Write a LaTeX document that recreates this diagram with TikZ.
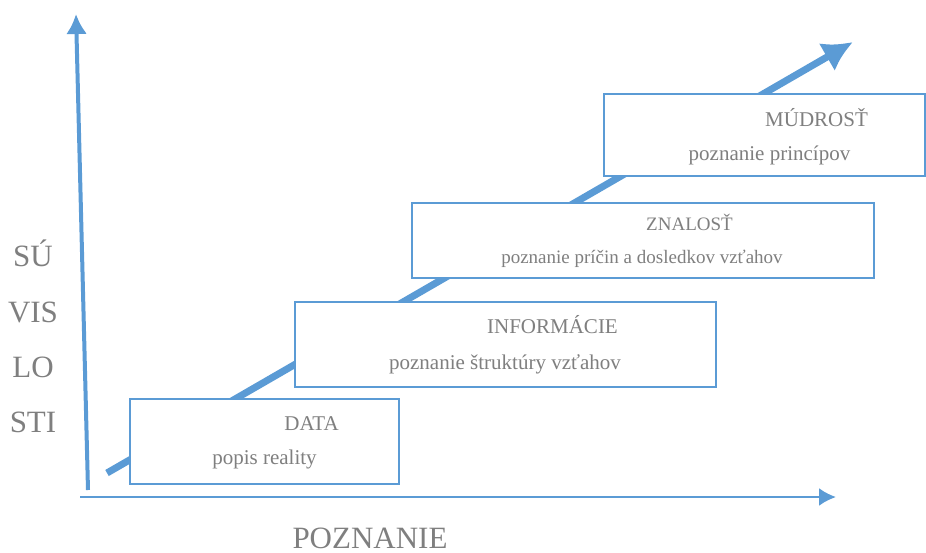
\documentclass[tikz,border=0pt]{standalone}
\usepackage{fontspec}
\setmainfont{Liberation Serif}
\usepackage{tikz}
\usetikzlibrary{arrows.meta}
\definecolor{axblue}{HTML}{5B9BD5}
\definecolor{txtgray}{HTML}{7F7F7F}

\begin{document}
\begin{tikzpicture}[x=1pt,y=-1pt,>=Latex,
  levelbox/.style={draw=axblue,line width=2pt,fill=white,inner sep=0pt},
  ttl/.style={text=txtgray,anchor=base,inner sep=0pt,font=\fontsize{21}{25}\selectfont},
  axlbl/.style={text=txtgray,anchor=base,inner sep=0pt,font=\fontsize{31}{36}\selectfont}]
\useasboundingbox (0,0) rectangle (926,553);
% axes
\coordinate (y_from) at (88,490);
\coordinate (y_to) at (76,14);
\coordinate (x_from) at (80,497);
\coordinate (x_to) at (836,497);
\draw[axblue,line width=4pt,-{Latex[length=20pt,width=21pt]}] (y_from)--(y_to);
\draw[axblue,line width=2.5pt,-{Latex[length=17pt,width=18pt]}] (x_from)--(x_to);
% rising arrow behind the boxes
\coordinate (d_from) at (107,473);
\coordinate (d_to) at (853,42);
\draw[axblue,line width=7pt,-{Latex[length=30pt,width=32pt]}] (d_from)--(d_to);
% levels
\node[levelbox,minimum width=269pt,minimum height=85pt] (lv_data) at (264.5,441.5) {};
\node[levelbox,minimum width=421pt,minimum height=85pt] (lv_inf) at (505.5,344.5) {};
\node[levelbox,minimum width=462pt,minimum height=75pt] (lv_zn) at (643,240.5) {};
\node[levelbox,minimum width=321pt,minimum height=82pt] (lv_mu) at (764,135) {};
\node[ttl] (t_data) at (311.5,430) {DATA};
\node[ttl] (s_data) at (264.5,464) {popis reality};
\node[ttl] (t_inf) at (552.5,334) {INFORMÁCIE};
\node[ttl] (s_inf) at (505,369) {poznanie štruktúry vzťahov};
\node[ttl,font=\fontsize{19}{23}\selectfont] (t_zn) at (689.5,231) {ZNALOSŤ};
\node[ttl,font=\fontsize{19}{23}\selectfont] (s_zn) at (642,264) {poznanie príčin a dosledkov vzťahov};
\node[ttl] (t_mu) at (816.5,127) {MÚDROSŤ};
\node[ttl] (s_mu) at (769.5,161) {poznanie princípov};
% axis labels
\node[axlbl] (su) at (33,267) {SÚ};
\node[axlbl] (vis) at (33,322) {VIS};
\node[axlbl] (lo) at (33,377) {LO};
\node[axlbl] (sti) at (33,432) {STI};
\node[axlbl] (pozn) at (370,548) {POZNANIE};
\end{tikzpicture}
\end{document}
